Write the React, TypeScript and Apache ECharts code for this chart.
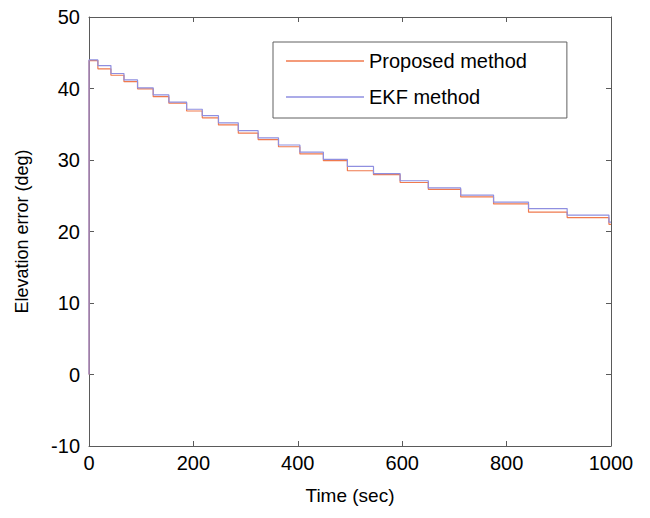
import React, { useEffect, useRef } from 'react';
import * as echarts from 'echarts';

// Times (sec) at which both estimates drop to their next level
const dropTimes = [17, 42, 67, 93, 123, 153, 187, 217, 248, 286, 324, 363, 404, 449, 495, 545, 596, 650, 712, 775, 842, 916, 996];
// Level held before the first drop and after each drop (deg)
const ekfLevels = [44.0, 43.2, 42.1, 41.2, 40.1, 39.1, 38.1, 37.1, 36.2, 35.2, 34.1, 33.1, 32.1, 31.1, 30.1, 29.1, 28.1, 27.1, 26.1, 25.1, 24.1, 23.2, 22.3, 21.3];
const proposedLevels = [43.9, 42.75, 41.85, 40.95, 39.95, 38.85, 37.95, 36.85, 35.9, 34.9, 33.75, 32.85, 31.85, 30.85, 29.9, 28.5, 27.95, 26.85, 25.9, 24.85, 23.85, 22.7, 21.95, 21.0];
const startValue = 0;
const endTime = 1000;

const xTicks = [0, 200, 400, 600, 800, 1000];
const yTicks = [-10, 0, 10, 20, 30, 40, 50];

const seriesNames = ['Proposed method', 'EKF method'];
const seriesColors = ['#f07a4e', '#8f8fe0'];

function buildSteps(levels: number[]): number[][] {
  const pts: number[][] = [[0, startValue], [0, levels[0]]];
  dropTimes.forEach((t, i) => pts.push([t, levels[i + 1]]));
  pts.push([endTime, levels[levels.length - 1]]);
  return pts;
}

const FONT = '"Liberation Sans", Arial, Helvetica, sans-serif';

export default function App() {
  const ref = useRef<HTMLDivElement>(null);
  useEffect(() => {
    if (!ref.current) return;
    const chart = echarts.init(ref.current, undefined, { renderer: 'svg' });
    const axisLine = { show: true, onZero: false, lineStyle: { color: '#5a5a5a', width: 1 } };
    const tick = { show: true, inside: true, length: 5, lineStyle: { color: '#5a5a5a' } };
    const plain = (v: number) => String(v);
    chart.setOption({
      animation: false,
      backgroundColor: '#ffffff',
      textStyle: { fontFamily: FONT },
      grid: { left: 89, right: 39, top: 17, bottom: 72, containLabel: false, outerBoundsMode: 'none' },
      legend: {
        orient: 'vertical',
        left: 273,
        top: 42,
        data: seriesNames,
        icon: 'rect',
        itemWidth: 78,
        itemHeight: 1.5,
        itemGap: 16,
        padding: [9, 40, 11, 13],
        borderColor: '#606060',
        borderWidth: 1,
        backgroundColor: '#ffffff',
        textStyle: { fontSize: 20, color: '#000', fontFamily: FONT },
      },
      xAxis: [
        {
          type: 'value', position: 'bottom', min: xTicks[0], max: xTicks[xTicks.length - 1], interval: 200,
          name: 'Time (sec)', nameLocation: 'middle', nameGap: 40,
          nameTextStyle: { fontSize: 19, color: '#000', fontFamily: FONT },
          axisLine, axisTick: tick, splitLine: { show: false },
          axisLabel: { fontSize: 20, color: '#000', margin: 7, fontFamily: FONT, formatter: plain },
        },
        {
          type: 'value', position: 'top', min: xTicks[0], max: xTicks[xTicks.length - 1], interval: 200,
          axisLine, axisTick: tick, splitLine: { show: false }, axisLabel: { show: false },
        },
      ],
      yAxis: [
        {
          type: 'value', position: 'left', min: yTicks[0], max: yTicks[yTicks.length - 1], interval: 10,
          name: 'Elevation error (deg)', nameLocation: 'middle', nameGap: 58,
          nameTextStyle: { fontSize: 18, color: '#000', fontFamily: FONT },
          axisLine, axisTick: tick, splitLine: { show: false },
          axisLabel: { fontSize: 20, color: '#000', margin: 9, fontFamily: FONT, formatter: plain },
        },
        {
          type: 'value', position: 'right', min: yTicks[0], max: yTicks[yTicks.length - 1], interval: 10,
          axisLine, axisTick: tick, splitLine: { show: false }, axisLabel: { show: false },
        },
      ],
      series: [
        {
          name: seriesNames[0], type: 'line', step: 'end', symbol: 'none',
          data: buildSteps(proposedLevels),
          itemStyle: { color: seriesColors[0] },
          lineStyle: { color: seriesColors[0], width: 1.2 },
          z: 2,
        },
        {
          name: seriesNames[1], type: 'line', step: 'end', symbol: 'none',
          data: buildSteps(ekfLevels),
          itemStyle: { color: seriesColors[1] },
          lineStyle: { color: seriesColors[1], width: 1.2 },
          z: 3,
        },
      ],
    });
    return () => chart.dispose();
  }, []);
  return <div ref={ref} style={{ position: 'fixed', left: 0, top: 0, width: 650, height: 518 }} />;
}
